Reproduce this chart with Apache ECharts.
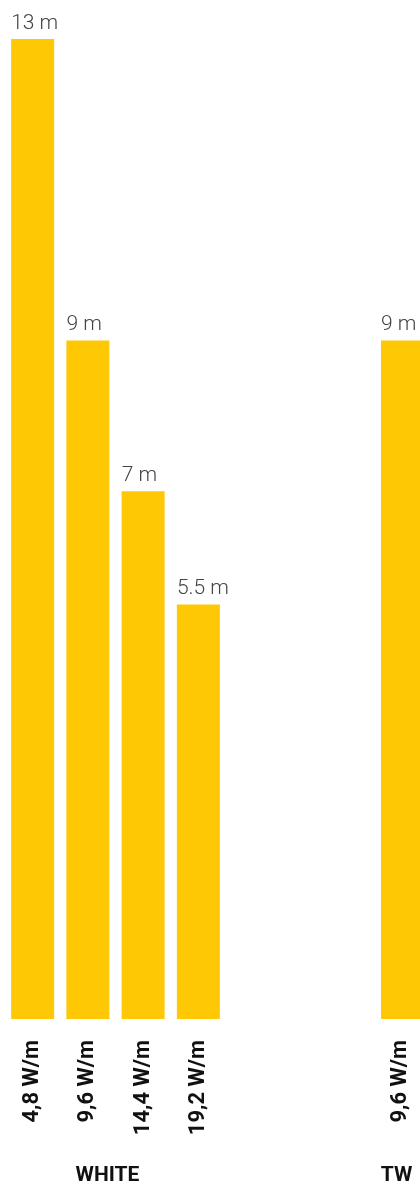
<!DOCTYPE html>
<html>
<head>
<meta charset="utf-8">
<script src="https://cdn.jsdelivr.net/npm/echarts@6/dist/echarts.min.js"></script>
<style>
  html, body { margin: 0; padding: 0; background: #fff; }
  #chart { width: 420px; height: 1191px; }
</style>
</head>
<body>
<div id="chart"></div>
<script>
// max. lengths per power class
var groups = ['WHITE', 'TW'];
var whiteCats = ['4,8 W/m', '9,6 W/m', '14,4 W/m', '19,2 W/m'];
var whiteLengths = [13, 9, 7, 5.5];
var twCats = ['9,6 W/m'];
var twLengths = [9];

var yellow = '#FFC805';

function valueLabel() {
  return {
    show: true,
    position: [0, -5],
    align: 'left',
    verticalAlign: 'bottom',
    formatter: function (p) { return p.value + ' m'; },
    fontFamily: 'Roboto',
    fontWeight: 300,
    fontSize: 21,
    color: '#444'
  };
}

function xAx(idx, cats, name, pad) {
  return {
    gridIndex: idx,
    type: 'category',
    data: cats,
    axisLine: { show: false },
    axisTick: { show: false },
    axisLabel: {
      rotate: 90,
      margin: 21,
      fontFamily: 'Roboto',
      fontWeight: 'bold',
      fontSize: 22,
      color: '#111'
    },
    name: name,
    nameLocation: 'middle',
    nameGap: 146,
    nameTextStyle: {
      fontFamily: 'Roboto',
      fontWeight: 'bold',
      fontSize: 21,
      color: '#111',
      padding: pad
    }
  };
}

function yAx(idx) {
  return {
    gridIndex: idx,
    type: 'value',
    min: 0,
    max: 13,
    show: false
  };
}

var myChart = echarts.init(document.getElementById('chart'));
myChart.setOption({
  animation: false,
  grid: [
    { left: 5, width: 221, top: 39, bottom: 168 },
    { left: 381, width: 43, top: 39, bottom: 168 }
  ],
  xAxis: [
    xAx(0, whiteCats, groups[0], [0, 16, 0, 0]),
    xAx(1, twCats, groups[1], [0, 8, 0, 0])
  ],
  yAxis: [yAx(0), yAx(1)],
  series: [
    {
      type: 'bar',
      xAxisIndex: 0,
      yAxisIndex: 0,
      data: whiteLengths,
      barWidth: 43,
      itemStyle: { color: yellow },
      label: valueLabel()
    },
    {
      type: 'bar',
      xAxisIndex: 1,
      yAxisIndex: 1,
      data: twLengths,
      barWidth: 43,
      itemStyle: { color: yellow },
      label: valueLabel()
    }
  ]
});
</script>
</body>
</html>
